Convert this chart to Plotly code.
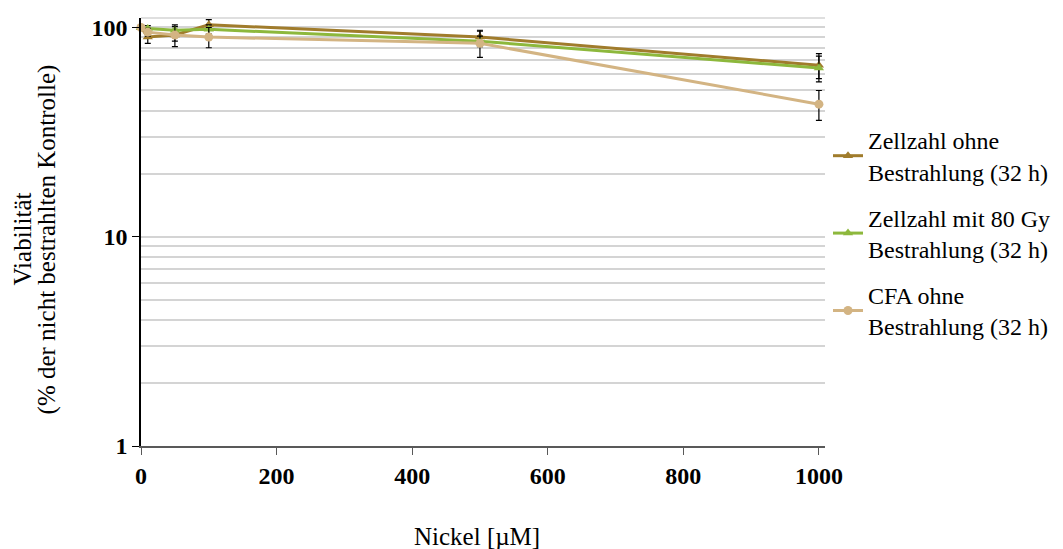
import plotly.graph_objects as go
import numpy as np

nickel = [0, 10, 50, 100, 500, 1000]

ohne_vals = [100, 90, 92, 103, 90, 66]
ohne_err = [3, 6, 6, 6, 7, 9]

mit_vals = [100, 99, 97, 98, 86, 64]
mit_err = [2, 3, 4, 5, 5, 9]

cfa_vals = [100, 95, 92, 90, 84, 43]
cfa_err = [2, 4, 11, 10, 12, 7]

names = ["Zellzahl ohne<br>Bestrahlung (32 h)",
         "Zellzahl mit 80 Gy<br>Bestrahlung (32 h)",
         "CFA ohne<br>Bestrahlung (32 h)"]
colors = ["#A07C2C", "#8DB83C", "#D3B483"]
symbols = ["triangle-up", "triangle-up", "circle"]

x_ticks = [0, 200, 400, 600, 800, 1000]
y_ticks = [1, 10, 100]
y_minor = [v * m for m in (1, 10) for v in range(2, 10)]

font_family = "Liberation Serif, Times New Roman, serif"

# page offset of the figure (body margin)
OFF = 8
W, H = 1063, 549
L, T = 141 - OFF, 15 - OFF
R = W - (825 - OFF)
B = H - (446 - OFF)
pw = W - L - R
ph = H - T - B

fig = go.Figure()
series = [(ohne_vals, ohne_err), (mit_vals, mit_err), (cfa_vals, cfa_err)]
for i, (vals, err) in enumerate(series):
    fig.add_trace(go.Scatter(
        x=nickel, y=vals, name=names[i], mode="lines+markers",
        line=dict(color=colors[i], width=3),
        marker=dict(symbol=symbols[i], size=9, color=colors[i]),
        error_y=dict(type="data", array=err, color="black", thickness=1.2, width=3),
        legendgroup=f"g{i}", cliponaxis=False,
    ))

def px_x(px):
    return (px - OFF - L) / pw

def px_y(py):
    return 1 - (py - OFF - T) / ph

fig.update_layout(
    width=W, height=H,
    margin=dict(l=L, r=R, t=T, b=B),
    plot_bgcolor="white", paper_bgcolor="white",
    font=dict(family=font_family, size=24, color="black"),
    showlegend=True,
    legend=dict(x=px_x(828), xanchor="left", y=px_y(232), yanchor="middle",
                font=dict(family=font_family, size=24, color="black"),
                tracegroupgap=12, itemwidth=30, bgcolor="rgba(0,0,0,0)"),
    xaxis=dict(range=[0, 1009], tickvals=x_ticks, ticktext=[f"<b>{t}</b>" for t in x_ticks],
               showgrid=False, zeroline=False, showline=True, linecolor="#595959", linewidth=1.5,
               ticks="outside", ticklen=7, tickcolor="#595959",
               tickfont=dict(family=font_family, size=24, color="black")),
    yaxis=dict(type="log", range=[0, np.log10(111)], tickvals=y_ticks,
               ticktext=[f"<b>{t}</b>" for t in y_ticks],
               showgrid=True, gridcolor="#D4D4D4", gridwidth=1.5,
               zeroline=False, showline=True, linecolor="black", linewidth=1.5,
               ticks="outside", ticklen=7, tickcolor="black",
               tickfont=dict(family=font_family, size=24, color="black"),
               minor=dict(tickvals=y_minor, showgrid=True, gridcolor="#D4D4D4", gridwidth=1.5, ticks="")),
    annotations=[
        dict(text="Nickel [µM]", x=px_x(477), xref="paper", y=px_y(537), yref="paper",
             showarrow=False, xanchor="center", yanchor="middle",
             font=dict(family=font_family, size=25)),
        dict(text="Viabilität", textangle=-90,
             x=px_x(22), xref="paper", y=px_y(238), yref="paper", showarrow=False,
             xanchor="center", yanchor="middle",
             font=dict(family=font_family, size=25)),
        dict(text="(% der nicht bestrahlten Kontrolle)", textangle=-90,
             x=px_x(47), xref="paper", y=px_y(238), yref="paper", showarrow=False,
             xanchor="center", yanchor="middle",
             font=dict(family=font_family, size=25)),
    ],
    shapes=[dict(type="line", xref="paper", yref="paper", x0=0, x1=1, y0=1, y1=1,
                 line=dict(color="#D4D4D4", width=1.5))],
)

fig.write_html("out.html")
